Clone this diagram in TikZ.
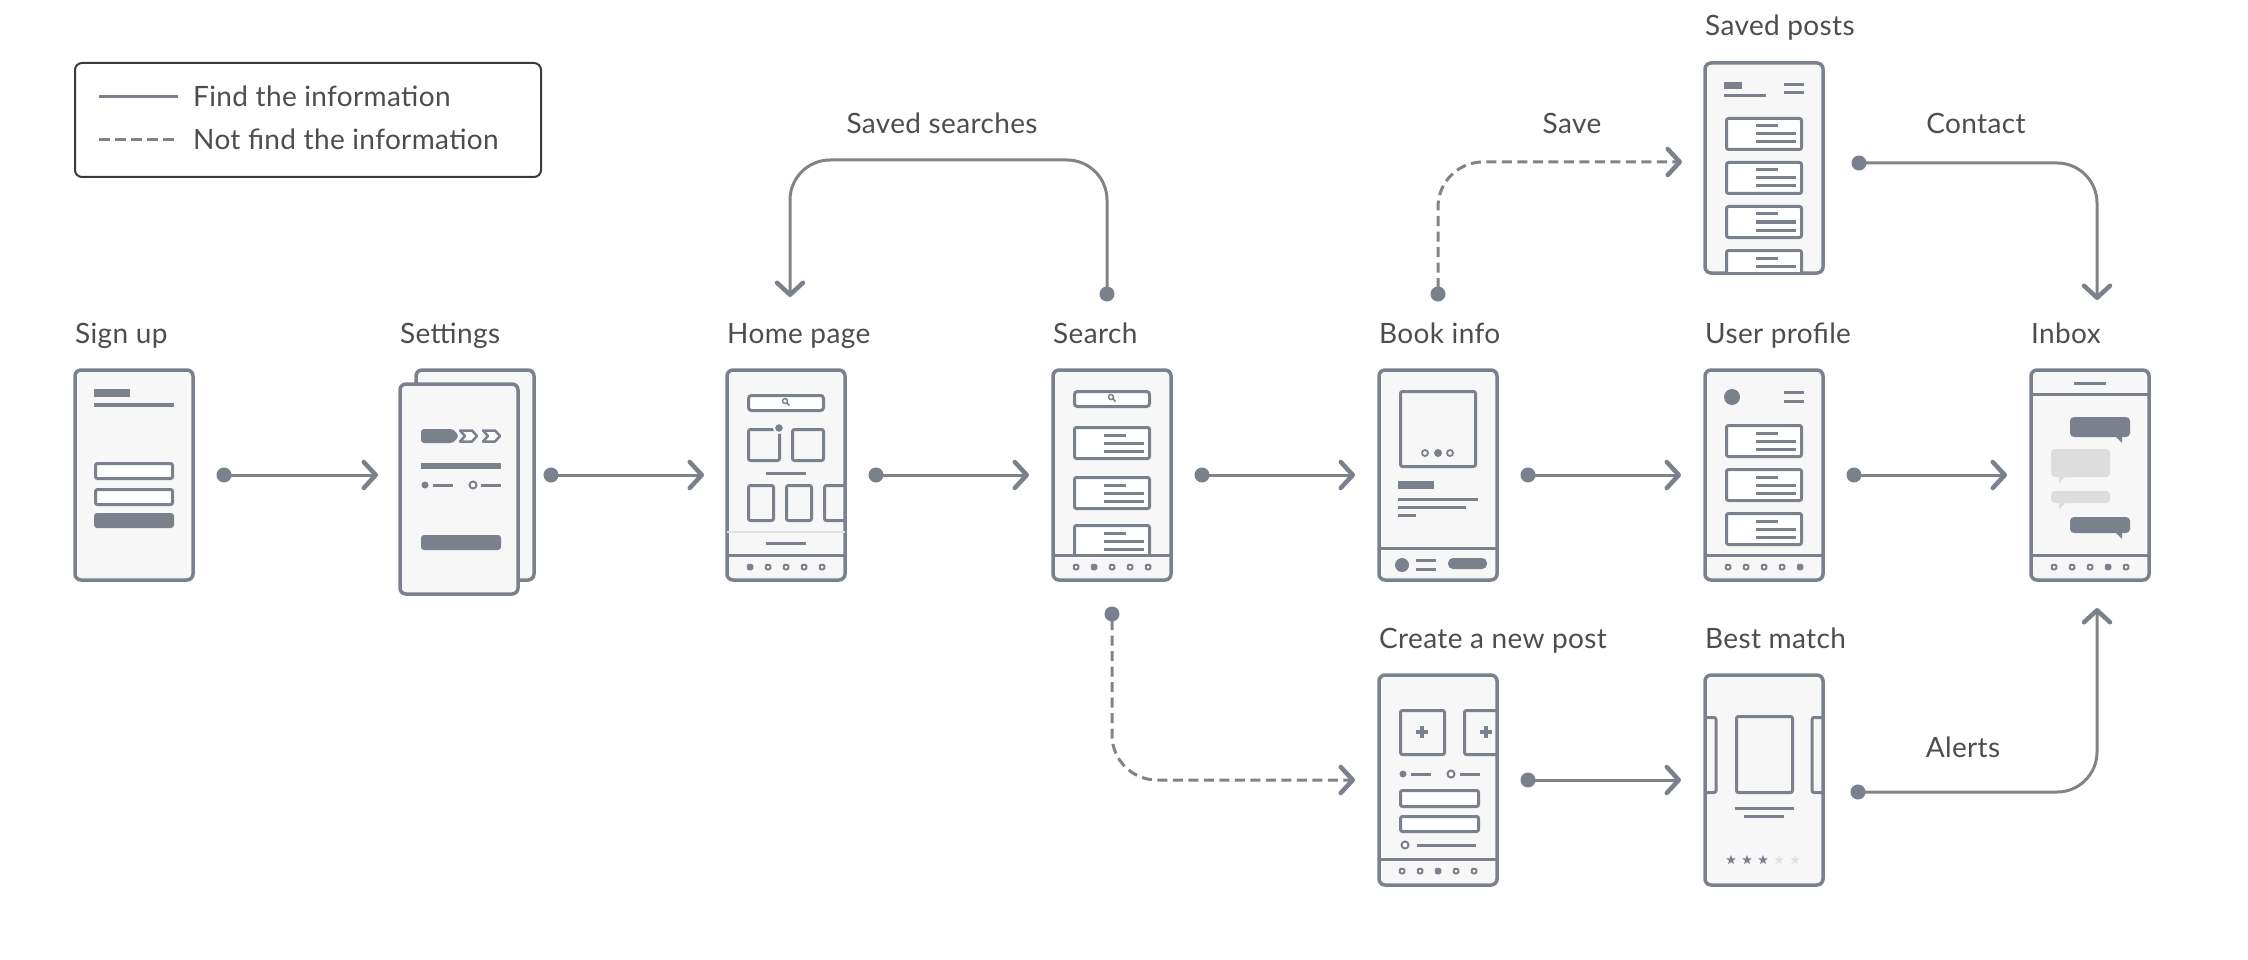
\documentclass[tikz,border=0pt]{standalone}
\usepackage{fontspec}
\setmainfont{Lato}[LetterSpace=1.3]
\usetikzlibrary{arrows.meta,shapes.geometric}

\definecolor{wire}{HTML}{7B818C}
\definecolor{screen}{HTML}{F7F7F7}
\definecolor{flowgray}{HTML}{838383}
\definecolor{labelgray}{HTML}{4D4D4D}
\definecolor{legendline}{HTML}{3A3A3A}
\definecolor{bubble}{HTML}{DDDDDD}
\definecolor{faint}{HTML}{E2E2E2}

% tab bar at the bottom of a screen: #1 = y of the bar, #2 = active tab
\newcommand{\navbar}[2]{%
  \draw[wireline] (0,#1) -- (118,#1);
  \foreach \k in {1,...,5}{%
    \ifnum\k=#2\relax
      \filldraw[wire, line width=2pt, rounded corners=1pt] ({2.75+18*\k},#1+9.75) rectangle ++(4.5,4.5);
    \else
      \draw[wire, line width=2pt, fill=white, rounded corners=1pt] ({2.75+18*\k},#1+9.75) rectangle ++(4.5,4.5);
    \fi}}

% one card of a result list: #1 = top of the card
\newcommand{\listcard}[1]{%
  \draw[wireline, fill=white, rounded corners=2pt] (21.5,#1+1.5) rectangle (96.5,#1+32.5);
  \draw[textline] (51,#1+9) -- (73,#1+9) (51,#1+17) -- (91,#1+17) (51,#1+25) -- (91,#1+25);}

% magnifier of a search field: #1 = centre
\newcommand{\lens}[1]{%
  \draw[wire, line width=1.5pt] (#1) circle (2.5pt) ++(2,2) -- ++(2.5,2.5);}

\begin{document}
\begin{tikzpicture}[x=1pt, y=-1pt]

    \tikzstyle{phone}=[draw=wire, fill=screen, line width=3.5pt, rounded corners=6pt, minimum width=118pt, minimum height=210pt, inner sep=0pt, outer sep=0pt, anchor=north west]
    \tikzstyle{title}=[text=labelgray, font=\fontsize{28}{33}\selectfont, inner sep=0pt, anchor=base west]
    \tikzstyle{caption}=[text=labelgray, font=\fontsize{28}{33}\selectfont, inner sep=0pt, anchor=base]
    \tikzstyle{wireline}=[draw=wire, line width=3pt]
    \tikzstyle{textline}=[draw=wire, line width=3pt]
    \tikzstyle{flow}=[draw=flowgray, line width=3pt, {Circle[length=15pt, color=wire]}-{Straight Barb[length=12pt, width=26pt, line width=4.5pt, round, color=wire]}]
    \tikzstyle{noflow}=[flow, dash pattern=on 10pt off 5.5pt]

    \useasboundingbox (0,0) rectangle (2248,960);

    % legend
    \node[draw=legendline, line width=2pt, rounded corners=7pt, minimum width=466pt, minimum height=114pt, inner sep=0pt, outer sep=0pt, anchor=north west] (Legend) at (75,63) {};
    \draw[draw=wire, line width=3pt] (99,97) -- (178,97);
    \node[caption, anchor=base west] (FindText) at (193,107) {Find the information};
    \draw[draw=flowgray, line width=3pt, dash pattern=on 10.5pt off 5.5pt] (99,140) -- (178,140);
    \node[caption, anchor=base west] (NotFindText) at (193,150) {Not find the information};

    % screens
    \node[phone] (SignUp) at (75,370) {};
    \node[phone] (SettingsBack) at (416,370) {};
    \node[phone] (Settings) at (400,384) {};
    \node[phone] (HomePage) at (727,370) {};
    \node[phone] (Search) at (1053,370) {};
    \node[phone] (BookInfo) at (1379,370) {};
    \node[phone] (UserProfile) at (1705,370) {};
    \node[phone] (Inbox) at (2031,370) {};
    \node[phone] (SavedPosts) at (1705,63) {};
    \node[phone] (CreatePost) at (1379,675) {};
    \node[phone] (BestMatch) at (1705,675) {};

    % screen titles
    \node[title] (SignUpTitle) at ([yshift=27pt]SignUp.north west) {Sign up};
    \node[title] (SettingsTitle) at ([yshift=27pt]Settings.west |- SettingsBack.north) {Settings};
    \node[title] (HomePageTitle) at ([yshift=27pt]HomePage.north west) {Home page};
    \node[title] (SearchTitle) at ([yshift=27pt]Search.north west) {Search};
    \node[title] (BookInfoTitle) at ([yshift=27pt]BookInfo.north west) {Book info};
    \node[title] (UserProfileTitle) at ([yshift=27pt]UserProfile.north west) {User profile};
    \node[title] (InboxTitle) at ([yshift=27pt]Inbox.north west) {Inbox};
    \node[title] (SavedPostsTitle) at ([yshift=27pt]SavedPosts.north west) {Saved posts};
    \node[title] (CreatePostTitle) at ([yshift=27pt]CreatePost.north west) {Create a new post};
    \node[title] (BestMatchTitle) at ([yshift=27pt]BestMatch.north west) {Best match};

    % sign up
    \begin{scope}[shift={(SignUp.north west)}]
        \fill[wire] (19,19) rectangle (55,27);
        \fill[wire] (19,33) rectangle (99,37);
        \draw[wireline, fill=white, rounded corners=2pt] (20.5,93.5) rectangle (97.5,108.5);
        \draw[wireline, fill=white, rounded corners=2pt] (20.5,119.5) rectangle (97.5,134.5);
        \fill[wire, rounded corners=3pt] (19,143) rectangle (99,158);
    \end{scope}

    % settings
    \begin{scope}[shift={(Settings.north west)}]
        \fill[wire, rounded corners=3pt] (21,45) -- (53,45) -- (59,52) -- (53,59) -- (21,59) -- cycle;
        \draw[wire, line width=2.5pt, fill=white, line join=round] (60,46.5) -- (72,46.5) -- (77,52) -- (72,57.5) -- (60,57.5) -- (65,52) -- cycle;
        \draw[wire, line width=2.5pt, fill=white, line join=round] (83,46.5) -- (95,46.5) -- (100,52) -- (95,57.5) -- (83,57.5) -- (88,52) -- cycle;
        \fill[wire] (21,79) rectangle (101,85);
        \fill[wire] (25,101) circle (3.5pt);
        \draw[textline] (33,101) -- (53,101);
        \draw[wire, line width=2pt, fill=white] (73,101) circle (3.5pt);
        \draw[textline] (81,101) -- (101,101);
        \fill[wire, rounded corners=3pt] (21,151) rectangle (101,166);
    \end{scope}

    % home page
    \begin{scope}[shift={(HomePage.north west)}]
        \draw[wireline, fill=white, rounded corners=3pt] (21.5,25.5) rectangle (96.5,40.5);
        \lens{58,31}
        \draw[wireline, rounded corners=2pt] (21.5,59.5) rectangle (52.5,90.5);
        \draw[wireline, rounded corners=2pt] (65.5,59.5) rectangle (96.5,90.5);
        \filldraw[fill=wire, draw=screen, line width=2pt] (52,58) circle (5pt);
        \draw[textline] (39,103) -- (79,103);
        \draw[wireline, rounded corners=2pt] (21.5,115.5) rectangle (46.5,150.5);
        \draw[wireline, rounded corners=2pt] (59.5,115.5) rectangle (84.5,150.5);
        \draw[wireline, rounded corners=2pt] (118,115.5) -- (97.5,115.5) -- (97.5,150.5) -- (118,150.5);
        \draw[draw=faint, line width=1.5pt] (0,162) -- (118,162);
        \draw[textline] (39,173) -- (79,173);
        \navbar{185}{1}
    \end{scope}

    % search
    \begin{scope}[shift={(Search.north west)}]
        \draw[wireline, fill=white, rounded corners=3pt] (21.5,21.5) rectangle (96.5,36.5);
        \lens{58,27}
        \listcard{56}
        \listcard{106}
        \begin{scope}
            \clip (0,0) rectangle (118,185);
            \listcard{154}
        \end{scope}
        \navbar{185}{2}
    \end{scope}

    % book info
    \begin{scope}[shift={(BookInfo.north west)}]
        \draw[wireline, rounded corners=2pt] (21.5,21.5) rectangle (96.5,96.5);
        \draw[wire, line width=1.8pt, fill=white] (46,83) circle (3pt) (71,83) circle (3pt);
        \fill[wire] (59,83) circle (4pt);
        \fill[wire] (19,111) rectangle (55,119);
        \draw[textline] (19,129) -- (99,129) (19,137) -- (87,137) (19,145) -- (37,145);
        \draw[wireline] (0,178) -- (118,178);
        \fill[wire] (23,195) circle (7pt);
        \draw[textline] (37,190) -- (57,190) (37,199) -- (57,199);
        \fill[wire, rounded corners=5pt] (69,188) rectangle (108,199);
    \end{scope}

    % user profile
    \begin{scope}[shift={(UserProfile.north west)}]
        \fill[wire] (27,27) circle (8pt);
        \draw[textline] (79,22) -- (99,22) (79,31) -- (99,31);
        \listcard{54}
        \listcard{98}
        \listcard{142}
        \navbar{185}{5}
    \end{scope}

    % inbox
    \begin{scope}[shift={(Inbox.north west)}]
        \draw[textline] (43,13) -- (75,13);
        \draw[wireline] (0,24) -- (118,24);
        \fill[wire, rounded corners=4pt] (39,47) rectangle (99,67);
        \fill[wire] (84,66) -- (91,66) -- (91,73) -- cycle;
        \fill[bubble, rounded corners=4pt] (20,79) rectangle (79,107);
        \fill[bubble] (28,106) -- (35,106) -- (28,113) -- cycle;
        \fill[bubble, rounded corners=4pt] (20,121) rectangle (79,133);
        \fill[bubble] (28,132) -- (35,132) -- (28,139) -- cycle;
        \fill[wire, rounded corners=4pt] (39,147) rectangle (99,163);
        \fill[wire] (84,162) -- (91,162) -- (91,169) -- cycle;
        \navbar{185}{4}
    \end{scope}

    % saved posts
    \begin{scope}[shift={(SavedPosts.north west)}]
        \fill[wire] (19,19) rectangle (37,26);
        \draw[textline] (19,33) -- (61,33);
        \draw[textline] (79,22) -- (99,22) (79,30) -- (99,30);
        \listcard{54}
        \listcard{98}
        \listcard{142}
        \begin{scope}
            \clip (0,0) rectangle (118,208);
            \listcard{186}
        \end{scope}
    \end{scope}

    % create a new post
    \begin{scope}[shift={(CreatePost.north west)}]
        \draw[wireline, rounded corners=2pt] (21.5,35.5) rectangle (65.5,79.5);
        \draw[wire, line width=3.5pt] (37,57) -- (49,57) (43,51) -- (43,63);
        \draw[wireline, rounded corners=2pt] (118,35.5) -- (85.5,35.5) -- (85.5,79.5) -- (118,79.5);
        \draw[wire, line width=3.5pt] (101,57) -- (113,57) (107,51) -- (107,63);
        \fill[wire] (24,99) circle (3.5pt);
        \draw[textline] (32,99) -- (52,99);
        \draw[wire, line width=2pt, fill=white] (72,99) circle (3.5pt);
        \draw[textline] (81,99) -- (101,99);
        \draw[wireline, fill=white, rounded corners=2pt] (21.5,115.5) rectangle (99.5,131.5);
        \draw[wireline, fill=white, rounded corners=2pt] (21.5,141.5) rectangle (99.5,156.5);
        \draw[wire, line width=2pt, fill=white] (26,170) circle (3.5pt);
        \draw[textline] (38,170) -- (97,170);
        \navbar{184}{3}
    \end{scope}

    % best match
    \begin{scope}[shift={(BestMatch.north west)}]
        \draw[wireline, rounded corners=2pt] (0,42.5) -- (11,42.5) -- (11,117.5) -- (0,117.5);
        \draw[wireline, rounded corners=2pt] (118,42.5) -- (107,42.5) -- (107,117.5) -- (118,117.5);
        \draw[wireline, rounded corners=2pt] (31.5,41.5) rectangle (87.5,117.5);
        \draw[textline] (30,133) -- (89,133) (39,141) -- (79,141);
        \foreach \sx/\sc in {26/wire, 42/wire, 58/wire, 74/faint, 90/faint}
            \node[star, star points=5, star point ratio=2.4, fill=\sc, minimum size=10pt, inner sep=0pt] (Star\sx) at (\sx,185) {};
    \end{scope}

    % flows
    \draw[flow] ([xshift=23.5pt]SignUp.east) -- ([xshift=-22pt]SignUp.east -| Settings.west);
    \draw[flow] ([xshift=9.5pt]SettingsBack.east) -- ([xshift=-23pt]HomePage.west);
    \foreach \from/\to in {HomePage/Search, Search/BookInfo, BookInfo/UserProfile, UserProfile/Inbox, CreatePost/BestMatch}
        \draw[flow] ([xshift=23.5pt]\from.east) -- ([xshift=-24pt]\to.west);

    \draw[flow, rounded corners=40pt] ([xshift=-5pt, yshift=68.5pt]Search.north) -- ++(0,-141.5) -| ([xshift=4pt, yshift=73pt]HomePage.north);
    \node[caption] (SavedSearchesLabel) at (942,134) {Saved searches};

    \draw[noflow, rounded corners=45pt] ([yshift=68.5pt]BookInfo.north) |- ([xshift=-23pt, yshift=6pt]SavedPosts.west);
    \node[caption] (SaveLabel) at (1572,134) {Save};

    \draw[flow, rounded corners=40pt] ([xshift=28.5pt, yshift=5pt]SavedPosts.east) -| ([xshift=7pt, yshift=70pt]Inbox.north);
    \node[caption] (ContactLabel) at (1976,134) {Contact};

    \draw[noflow, rounded corners=45pt] ([yshift=-26.5pt]Search.south) |- ([xshift=-24pt]CreatePost.west);

    \draw[flow, rounded corners=40pt] ([xshift=27.5pt, yshift=-12pt]BestMatch.east) -| ([xshift=7pt, yshift=-28pt]Inbox.south);
    \node[caption] (AlertsLabel) at (1963,757) {Alerts};

\end{tikzpicture}
\end{document}
